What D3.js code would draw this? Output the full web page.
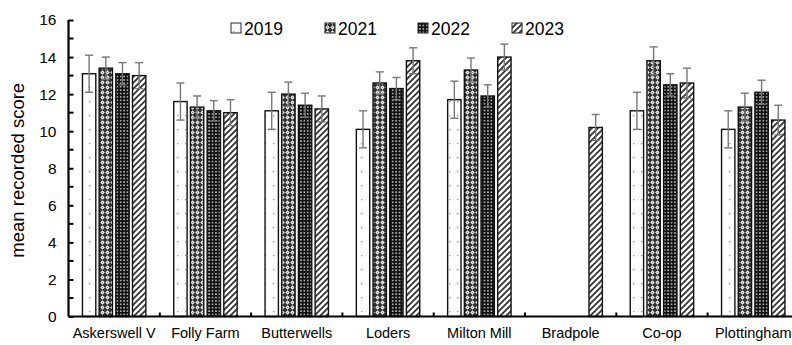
<!DOCTYPE html>
<html>
<head>
<meta charset="utf-8">
<script src="https://cdn.jsdelivr.net/npm/d3@7"></script>
<style>
  html, body { margin: 0; padding: 0; background: #fff; }
  svg { display: block; font-family: "Liberation Sans", Arial, sans-serif; }
</style>
</head>
<body>
<svg id="chart" width="792" height="345"></svg>
<script>
// Sites and survey years
const categories = ["Askerswell V", "Folly Farm", "Butterwells", "Loders", "Milton Mill", "Bradpole", "Co-op", "Plottingham"];
const years = ["2019", "2021", "2022", "2023"];

// Mean recorded score per site (null = not surveyed)
const mean2019 = [13.1, 11.6, 11.1, 10.1, 11.7, null, 11.1, 10.1];
const mean2021 = [13.4, 11.3, 12.0, 12.6, 13.3, null, 13.8, 11.3];
const mean2022 = [13.1, 11.1, 11.4, 12.3, 11.9, null, 12.5, 12.1];
const mean2023 = [13.0, 11.0, 11.2, 13.8, 14.0, 10.2, 12.6, 10.6];

// Error bar half-widths
const err2019 = [1.0, 1.0, 1.0, 1.0, 1.0, null, 1.0, 1.0];
const err2021 = [0.6, 0.6, 0.65, 0.6, 0.65, null, 0.75, 0.75];
const err2022 = [0.6, 0.55, 0.65, 0.6, 0.6, null, 0.6, 0.65];
const err2023 = [0.7, 0.7, 0.7, 0.7, 0.7, 0.7, 0.8, 0.8];

const yTicks = [0, 2, 4, 6, 8, 10, 12, 14, 16];

const means = [mean2019, mean2021, mean2022, mean2023];
const errs = [err2019, err2021, err2022, err2023];

const rows = [];
categories.forEach((c, i) => {
  years.forEach((yr, j) => {
    if (means[j][i] != null) rows.push({ cat: c, year: yr, idx: j, value: means[j][i], err: errs[j][i] });
  });
});

const svg = d3.select("#chart");
const x0 = 68.5, band = 91.3;
const x = d3.scaleBand().domain(categories).range([x0, x0 + band * categories.length]).padding(0);
const xi = d3.scaleBand().domain(years).range([band / 2 - 31.7, band / 2 + 31.7]).paddingInner(0.2);
const y = d3.scaleLinear().domain([0, 16]).range([316.5, 20]);

// Fill patterns, one per year
const defs = svg.append("defs");
const p19 = defs.append("pattern").attr("id", "p2019").attr("patternUnits", "userSpaceOnUse")
  .attr("width", 8).attr("height", 14);
p19.append("rect").attr("width", 8).attr("height", 14).attr("fill", "#fff");
p19.append("rect").attr("x", 1).attr("y", 3).attr("width", 1.3).attr("height", 1.3).attr("fill", "#7d9be0");

const p21 = defs.append("pattern").attr("id", "p2021").attr("patternUnits", "userSpaceOnUse")
  .attr("width", 5).attr("height", 5);
p21.append("rect").attr("width", 5).attr("height", 5).attr("fill", "#333");
p21.append("path").attr("d", "M2.5,0.3 L4.7,2.5 L2.5,4.7 L0.3,2.5 Z").attr("fill", "#f0f0f0");
p21.append("rect").attr("x", 2).attr("y", 2).attr("width", 1).attr("height", 1).attr("fill", "#888");

const p22 = defs.append("pattern").attr("id", "p2022").attr("patternUnits", "userSpaceOnUse")
  .attr("width", 3.4).attr("height", 3.4);
p22.append("rect").attr("width", 3.4).attr("height", 3.4).attr("fill", "#111");
p22.append("rect").attr("x", 1).attr("y", 1).attr("width", 1.5).attr("height", 1.5).attr("fill", "#d0d0d0");

const p23 = defs.append("pattern").attr("id", "p2023").attr("patternUnits", "userSpaceOnUse")
  .attr("width", 6).attr("height", 6);
p23.append("rect").attr("width", 6).attr("height", 6).attr("fill", "#fff");
p23.append("path").attr("d", "M-1.5,1.5 L1.5,-1.5 M0,6 L6,0 M4.5,7.5 L7.5,4.5")
  .attr("stroke", "#333").attr("stroke-width", 1.8);

const fillFor = yr => `url(#p${yr})`;

// Bars
svg.append("g").selectAll("rect").data(rows).join("rect")
  .attr("x", d => x(d.cat) + xi(d.year))
  .attr("y", d => y(d.value))
  .attr("width", xi.bandwidth())
  .attr("height", d => y(0) - y(d.value))
  .attr("fill", d => fillFor(d.year))
  .attr("stroke", "#111")
  .attr("stroke-width", 1.4);

// Error bars
const eb = svg.append("g").attr("stroke", "#777").attr("stroke-width", 1.4).attr("fill", "none");
rows.forEach(d => {
  const cx = x(d.cat) + xi(d.year) + xi.bandwidth() / 2;
  const yTop = y(d.value + d.err), yBot = y(d.value - d.err);
  eb.append("line").attr("x1", cx).attr("x2", cx).attr("y1", yTop).attr("y2", yBot);
  eb.append("line").attr("x1", cx - 4).attr("x2", cx + 4).attr("y1", yTop).attr("y2", yTop);
  eb.append("line").attr("x1", cx - 4).attr("x2", cx + 4).attr("y1", yBot).attr("y2", yBot);
});

// Y axis: labelled major ticks every 2, minor ticks every 1, pointing inward
const yAxis = d3.axisLeft(y).tickValues(yTicks).tickSize(-5).tickPadding(12).tickFormat(d3.format("d"));
const gy = svg.append("g").attr("transform", `translate(${x0},0)`).call(yAxis);
gy.select(".domain").attr("stroke", "#000").attr("stroke-width", 2.2).attr("d", `M0,${y(16)}V${y(0)}`);
gy.selectAll(".tick line").attr("stroke", "#000").attr("stroke-width", 2);
gy.selectAll(".tick text").attr("font-size", 15.5).attr("fill", "#000")
  .attr("font-family", "Liberation Sans, Arial, sans-serif");
const minor = d3.range(1, 16, 2);
svg.append("g").selectAll("line").data(minor).join("line")
  .attr("x1", x0).attr("x2", x0 + 5).attr("y1", d => y(d)).attr("y2", d => y(d))
  .attr("stroke", "#000").attr("stroke-width", 2);

// X axis with separator ticks between categories
svg.append("line").attr("x1", x0).attr("x2", 800).attr("y1", y(0)).attr("y2", y(0))
  .attr("stroke", "#000").attr("stroke-width", 2.2);
svg.append("g").selectAll("line").data(categories.slice(1)).join("line")
  .attr("x1", d => x(d)).attr("x2", d => x(d)).attr("y1", y(0)).attr("y2", y(0) - 4)
  .attr("stroke", "#000").attr("stroke-width", 2);
svg.append("g").selectAll("text").data(categories).join("text")
  .attr("x", d => x(d) + band / 2).attr("y", 338)
  .attr("text-anchor", "middle").attr("font-size", 14.5).attr("fill", "#000")
  .text(d => d);

// Y axis title
svg.append("text")
  .attr("transform", `translate(24,${(y(0) + y(16)) / 2 + 2}) rotate(-90)`)
  .attr("text-anchor", "middle").attr("font-size", 18.5).attr("fill", "#000")
  .text("mean recorded score");

// Legend
const legX = [231, 325, 418, 512];
const leg = svg.append("g");
years.forEach((yr, j) => {
  leg.append("rect").attr("x", legX[j]).attr("y", 23).attr("width", 10).attr("height", 10)
    .attr("fill", fillFor(yr)).attr("stroke", "#222").attr("stroke-width", 1);
  leg.append("text").attr("x", legX[j] + 13).attr("y", 34.5).attr("font-size", 17.5).attr("fill", "#000").text(yr);
});
</script>
</body>
</html>
